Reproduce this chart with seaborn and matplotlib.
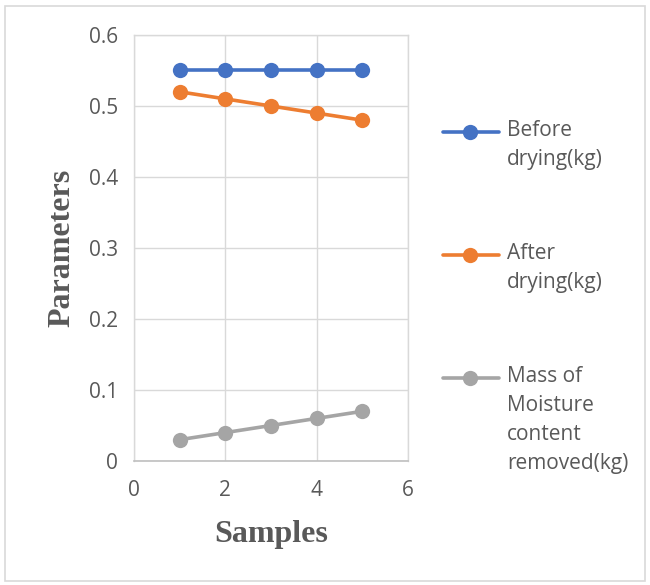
import matplotlib
matplotlib.use("Agg")
import matplotlib.pyplot as plt
from matplotlib.lines import Line2D
from matplotlib.patches import Rectangle
from matplotlib.ticker import FuncFormatter
import seaborn as sns
import pandas as pd

samples = [1, 2, 3, 4, 5]
before_drying = [0.55, 0.55, 0.55, 0.55, 0.55]
after_drying = [0.52, 0.51, 0.50, 0.49, 0.48]
moisture_removed = [0.03, 0.04, 0.05, 0.06, 0.07]
series_names = ["Before drying(kg)", "After drying(kg)", "Mass of Moisture content removed(kg)"]
legend_labels = ["Before\ndrying(kg)", "After\ndrying(kg)", "Mass of\nMoisture\ncontent\nremoved(kg)"]
colors = ["#4472C4", "#ED7D31", "#A5A5A5"]

rows = []
for name, vals in zip(series_names, [before_drying, after_drying, moisture_removed]):
    for s, v in zip(samples, vals):
        rows.append({"Samples": s, "Parameters": v, "Series": name})
df = pd.DataFrame(rows)

sns.set_style("white")
plt.rcParams["font.family"] = ["Open Sans", "DejaVu Sans"]

fig = plt.figure(figsize=(6.5, 5.85), dpi=100)
ax = fig.add_axes([134 / 650, 1 - 461 / 585, (408 - 134) / 650, (461 - 35) / 585])

sns.lineplot(data=df, x="Samples", y="Parameters", hue="Series", hue_order=series_names,
             palette=colors, marker="o", markersize=11, markeredgewidth=0,
             linewidth=2.6, legend=False, ax=ax)

ax.set_xlim(0, 6)
ax.set_ylim(0, 0.6)
ax.set_xticks([0, 2, 4, 6])
ax.set_yticks([0, 0.1, 0.2, 0.3, 0.4, 0.5, 0.6])
ax.yaxis.set_major_formatter(FuncFormatter(lambda v, p: f"{v:g}"))
ax.grid(True, color="#D9D9D9", linewidth=1)
ax.set_axisbelow(True)
for side in ["top", "right", "left"]:
    ax.spines[side].set_color("#D9D9D9")
    ax.spines[side].set_linewidth(1)
ax.spines["bottom"].set_color("#BFBFBF")
ax.spines["bottom"].set_linewidth(1.2)
ax.tick_params(axis="both", length=0, labelsize=15, labelcolor="#595959")
ax.tick_params(axis="y", pad=11.5)
ax.tick_params(axis="x", pad=14)

ax.set_xlabel("Samples", fontsize=23, fontweight="bold", color="#595959",
              family=["Liberation Serif", "DejaVu Serif"])
ax.set_ylabel("Parameters", fontsize=23, fontweight="bold", color="#595959",
              family=["Liberation Serif", "DejaVu Serif"])
ax.xaxis.set_label_coords(0.5, -(520 - 461) / 426)
ax.yaxis.set_label_coords((76 - 134) / 274, 0.5)

y_positions = [132, 255, 378]
for lab, col, yp in zip(legend_labels, colors, y_positions):
    fig.add_artist(Line2D([443 / 650, 499 / 650], [1 - yp / 585, 1 - yp / 585],
                          color=col, linewidth=2.6, transform=fig.transFigure))
    fig.add_artist(Line2D([470 / 650], [1 - yp / 585], color=col, marker="o",
                          markersize=11, markeredgewidth=0, transform=fig.transFigure))
    fig.text(507 / 650, 1 - (yp - 12) / 585, lab, fontsize=15, color="#595959",
             va="top", ha="left", linespacing=1.5)

fig.add_artist(Rectangle((5 / 650, 4 / 585), 640 / 650, 575 / 585, fill=False,
                         edgecolor="#D9D9D9", linewidth=1.2, transform=fig.transFigure))

fig.savefig("out.png", dpi=100)
